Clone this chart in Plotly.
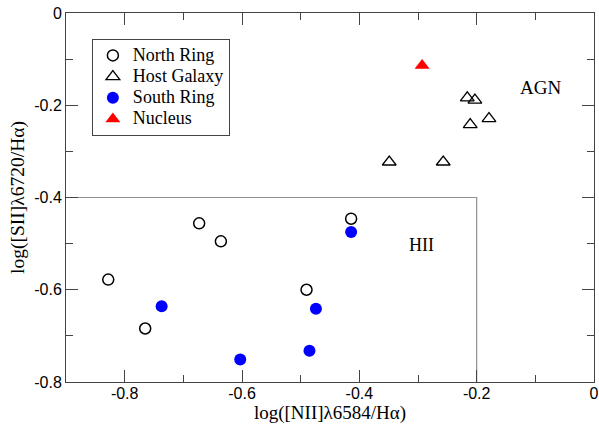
import plotly.graph_objects as go

north_x = [-0.828, -0.765, -0.673, -0.636, -0.490, -0.414]
north_y = [-0.578, -0.684, -0.456, -0.495, -0.600, -0.446]
host_x = [-0.349, -0.257, -0.216, -0.203, -0.211, -0.179]
host_y = [-0.323, -0.323, -0.184, -0.189, -0.242, -0.229]
south_x = [-0.737, -0.603, -0.485, -0.474, -0.414]
south_y = [-0.636, -0.751, -0.732, -0.641, -0.475]
nucleus_x = [-0.293]
nucleus_y = [-0.114]
boundary_x = [-0.9, -0.2, -0.2]
boundary_y = [-0.4, -0.4, -0.8]

x_tickvals = [-0.8, -0.6, -0.4, -0.2, 0]
x_ticktext = ["-0.8", "-0.6", "-0.4", "-0.2", "0"]
y_tickvals = [-0.8, -0.6, -0.4, -0.2, 0]
y_ticktext = ["-0.8", "-0.6", "-0.4", "-0.2", "0"]

SERIF = "Liberation Serif, Times New Roman, serif"


def leg(name):
    return '<span style="font-size:18px">' + name + '</span>'


fig = go.Figure()
fig.add_trace(go.Scatter(x=boundary_x, y=boundary_y, mode="lines",
                         line=dict(color="#909090", width=1.2), showlegend=False, hoverinfo="skip"))
fig.add_trace(go.Scatter(x=north_x, y=north_y, mode="markers", name=leg("North Ring"),
                         marker=dict(symbol="circle-open", size=11, color="black", line=dict(width=1.5))))
fig.add_trace(go.Scatter(x=host_x, y=host_y, mode="markers", name=leg("Host Galaxy"),
                         marker=dict(symbol="triangle-up-open", size=12, color="black", line=dict(width=1.3))))
fig.add_trace(go.Scatter(x=south_x, y=south_y, mode="markers", name=leg("South Ring"),
                         marker=dict(symbol="circle", size=12, color="#0000ff")))
fig.add_trace(go.Scatter(x=nucleus_x, y=nucleus_y, mode="markers", name=leg("Nucleus"),
                         marker=dict(symbol="triangle-up", size=13, color="#ff0000")))

fig.add_annotation(x=-0.091, y=-0.162, text="AGN", showarrow=False,
                   font=dict(family=SERIF, size=19, color="black"))
fig.add_annotation(x=-0.294, y=-0.504, text="HII", showarrow=False,
                   font=dict(family=SERIF, size=18, color="black"))

axis_common = dict(showgrid=False, zeroline=False, showline=True, linecolor="#444444", linewidth=1,
                   mirror="allticks", ticks="inside", ticklen=12, tickcolor="#444444", tickwidth=1,
                   automargin=False,
                   tickfont=dict(family="Liberation Sans, Arial, sans-serif", size=16, color="black"),
                   minor=dict(ticks="inside", ticklen=7, tickcolor="#444444", dtick=0.1, tick0=0))

fig.update_xaxes(range=[-0.9, 0], tickmode="array", tickvals=x_tickvals, ticktext=x_ticktext,
                 ticklabelstandoff=-3,
                 title=dict(text="log([NII]λ6584/Hα)", font=dict(family=SERIF, size=19, color="black"), standoff=5),
                 **axis_common)
fig.update_yaxes(range=[-0.8, 0], tickmode="array", tickvals=y_tickvals, ticktext=y_ticktext,
                 title=dict(text="log([SII]λ6720/Hα)", font=dict(family=SERIF, size=19.5, color="black"), standoff=4),
                 **axis_common)

fig.update_layout(width=599, height=424, margin=dict(l=66, r=5, t=13, b=42),
                  plot_bgcolor="white", paper_bgcolor="white",
                  legend=dict(x=0.049, y=0.93, xanchor="left", yanchor="top",
                              bordercolor="#444444", borderwidth=1, bgcolor="white",
                              font=dict(family=SERIF, size=14, color="black"),
                              tracegroupgap=0, itemwidth=30),
                  showlegend=True)

fig.write_html("out.html")
